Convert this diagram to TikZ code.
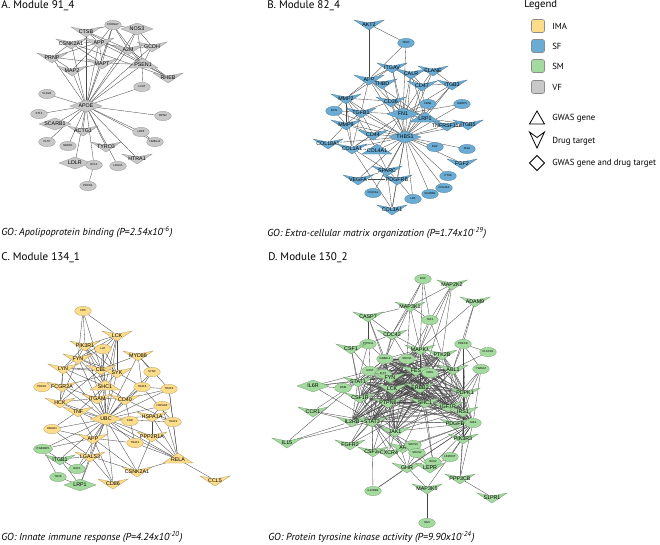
\documentclass[tikz,border=0pt]{standalone}
\usepackage{fontspec}
\setmainfont{PT Sans}
\newfontfamily\arialf{Liberation Sans}
\usetikzlibrary{shapes.geometric}
\pgfdeclarelayer{bg}
\pgfsetlayers{bg,main}
\definecolor{ima}{RGB}{253,220,138}
\definecolor{sf}{RGB}{107,172,212}
\definecolor{sm}{RGB}{163,218,157}
\definecolor{vf}{RGB}{200,200,200}
\definecolor{edgec}{RGB}{70,70,70}
\tikzset{
 edge/.style={draw=edgec, line width=0.25pt},
 lbl/.style={font=\arialf\fontsize{4}{4.5}\selectfont, inner sep=0.3pt},
 ell/.style={ellipse, inner sep=0pt, minimum width=12.5pt, minimum height=7pt, line width=0.2pt, font=\arialf\fontsize{2.1}{2.5}\selectfont},
 ttl/.style={font=\fontsize{8.3}{9}\selectfont, anchor=west, inner sep=0pt},
 gocap/.style={font=\itshape\fontsize{7.6}{8}\selectfont, anchor=west, inner sep=0pt},
 leglbl/.style={font=\fontsize{6.6}{8}\selectfont, anchor=west, inner sep=0pt},
 legsq/.style={rounded corners=1.5pt, draw=black!45, line width=0.4pt},
 legshape/.style={draw=black, line width=0.6pt, line join=miter},
}
\newcommand{\nV}[4]{\filldraw[fill=#4,draw=#4!70!black,line width=0.2pt,shift={(#2)}] (-15,-5) -- (0,-2) -- (15,-5) -- (0,5) -- cycle; \node[lbl,yshift=0.6pt] (#1) at (#2) {#3};}
\newcommand{\nT}[4]{\filldraw[fill=#4,draw=#4!70!black,line width=0.2pt,shift={(#2)}] (-15,5) -- (15,5) -- (0,-5) -- cycle; \node[lbl,yshift=-1pt] (#1) at (#2) {#3};}
\newcommand{\nD}[4]{\filldraw[fill=#4,draw=#4!70!black,line width=0.2pt,shift={(#2)}] (-16,0) -- (0,-6) -- (16,0) -- (0,6) -- cycle; \node[lbl] (#1) at (#2) {#3};}
\newcommand{\nE}[4]{\node[ell,fill=#4,draw=#4!70!black] (#1) at (#2) {#3};}
\begin{document}
\begin{tikzpicture}[x=0.75pt,y=-0.75pt]
\useasboundingbox (0,0) rectangle (660,544);
% ---------- titles and captions
\node[ttl] (tA) at (1,6) {A. Module 91\_4};
\node[ttl] (tB) at (267,6) {B. Module 82\_4};
\node[ttl] (tC) at (1,258) {C. Module 134\_1};
\node[ttl] (tD) at (268,258) {D. Module 130\_2};
\node[gocap] (gA) at (1,232) {GO: Apolipoprotein binding (P=2.54x10\textsuperscript{-6})};
\node[gocap] (gB) at (267,233) {GO: Extra-cellular matrix organization (P=1.74x10\textsuperscript{-29})};
\node[gocap] (gC) at (1,537) {GO: Innate immune response (P=4.24x10\textsuperscript{-20})};
\node[gocap] (gD) at (268,537) {GO: Protein tyrosine kinase activity (P=9.90x10\textsuperscript{-24})};
% ---------- legend
\node[ttl,font=\fontsize{8}{9}\selectfont] (lg) at (524,5) {Legend};
\filldraw[legsq,fill=ima] (531.5,19.5) rectangle (544.5,32.5);
\filldraw[legsq,fill=sf] (531.5,39.5) rectangle (544.5,52.5);
\filldraw[legsq,fill=sm] (531.5,59.5) rectangle (544.5,72.5);
\filldraw[legsq,fill=vf] (531.5,80.5) rectangle (544.5,93.5);
\node[leglbl] (l1) at (552,26) {IMA};
\node[leglbl] (l2) at (552,46) {SF};
\node[leglbl] (l3) at (552,66) {SM};
\node[leglbl] (l4) at (552,87) {VF};
\draw[legshape] (529.5,124) -- (544.5,124) -- (537,111) -- cycle;
\draw[legshape] (529.5,132) -- (537,137.5) -- (544.5,132) -- (537,148) -- cycle;
\draw[legshape] (529.5,163) -- (537,155.5) -- (544.5,163) -- (537,170.5) -- cycle;
\node[leglbl] (l5) at (552,118) {GWAS gene};
\node[leglbl] (l6) at (552,141) {Drug target};
\node[leglbl] (l7) at (552,163) {GWAS gene and drug target};
% ---------- panel A
\nE{aCHRNA7}{113,25}{CHRNA7}{vf}
\nD{aNOS3}{137,29}{NOS3}{vf}
\nV{aCTSB}{86,32}{CTSB}{vf}
\nV{aAPP}{99,43}{APP}{vf}
\nV{aCSNK2A1}{71,44}{CSNK2A1}{vf}
\nV{aA2M}{128,50}{A2M}{vf}
\nV{aGCDH}{152,47}{GCDH}{vf}
\nV{aPRNP}{52,58}{PRNP}{vf}
\nV{aMAPT}{102,64}{MAPT}{vf}
\nT{aPSEN1}{143,63}{PSEN1}{vf}
\nV{aMAP2}{72,71}{MAP2}{vf}
\nV{aRHEB}{168,78}{RHEB}{vf}
\nE{aLCAT}{142,87}{LCAT}{vf}
\nE{aVLDLR}{47,94}{VLDLR}{vf}
\nD{aAPOE}{86,106}{APOE}{vf}
\nE{aST13}{39,114}{ST13}{vf}
\nE{aEPN2}{163,116}{EPN2}{vf}
\nD{aSCARB1}{55,124}{SCARB1}{vf}
\nV{aACTG1}{83,131}{ACTG1}{vf}
\nE{aLRP8}{141,132}{LRP8}{vf}
\nE{aPLTP}{47,142}{PLTP}{vf}
\nE{aNEDD1}{68,146}{NEDD1}{vf}
\nE{aHMBL}{155,142}{HMBL12}{vf}
\nV{aTYRO3}{106,147}{TYRO3}{vf}
\nV{aHTRA1}{137,159}{HTRA1}{vf}
\nD{aLDLR}{75,163}{LDLR}{vf}
\nE{aRPL4}{94,165}{RPL4}{vf}
\nE{aLDLRA}{118,166}{LDLRA}{vf}
\nE{aPDCD1}{88,186}{PDCD1}{vf}
% ---------- panel B
\nV{bAKT2}{369,25}{AKT2}{sf}
\nE{bTFRC}{406,43}{TFRC}{sf}
\nV{bITGAV}{392,68}{ITGAV}{sf}
\nV{bCALR}{411,74}{CALR}{sf}
\nV{bELANE}{433,71}{ELANE}{sf}
\nV{bCD47}{422,86}{CD47}{sf}
\nV{bITGB3}{452,85}{ITGB3}{sf}
\nV{bAPP}{369,80}{APP}{sf}
\nV{bTHBD}{382,84}{THBD}{sf}
\nV{bMMP2}{346,99}{MMP2}{sf}
\nV{bCD36}{391,102}{CD36}{sf}
\nE{bFBN1}{428,104}{FBN1}{sf}
\nE{bIGFBP5}{462,104}{IGFBP5}{sf}
\nE{bDCN}{334,111}{DCN}{sf}
\nV{bTGFB1}{361,113}{TGFB1}{sf}
\nD{bFN1}{403,114}{FN1}{sf}
\nT{bLRP1}{425,117}{LRP1}{sf}
\nV{bTNFRSF11B}{447,126}{TNFRSF11B}{sf}
\nV{bITGB5}{468,125}{ITGB5}{sf}
\nV{bMMP9}{346,125}{MMP9}{sf}
\nV{bCD44}{373,135}{CD44}{sf}
\nD{bTHBS1}{405,137}{THBS1}{sf}
\nV{bCOL18A1}{328,144}{COL18A1}{sf}
\nV{bCOL1A1}{352,149}{COL1A1}{sf}
\nT{bCOL4A1}{377,149}{COL4A1}{sf}
\nE{bEGF}{435,147}{EGF}{sf}
\nE{bJAG1}{467,149}{JAG1}{sf}
\nV{bFGF2}{462,164}{FGF2}{sf}
\nE{bCTSK}{448,176}{CTSK}{sf}
\nE{bCOL4A2}{444,188}{COL4A2}{sf}
\nE{bSCARB1}{430,194}{SCARB1}{sf}
\nE{bLPA}{413,199}{LPA}{sf}
\nV{bSPARC}{387,171}{SPARC}{sf}
\nV{bVEGFA}{358,180}{VEGFA}{sf}
\nV{bPDGFRB}{397,180}{PDGFRB}{sf}
\nE{bCOL5A1}{373,193}{COL5A1}{sf}
\nV{bCOL3A1}{392,210}{COL3A1}{sf}
% ---------- panel C
\nE{cCD5}{83,311}{CD5}{ima}
\nV{cLCK}{117,336}{LCK}{ima}
\nV{cPIK3R1}{85,346}{PIK3R1}{ima}
\nE{cLAT}{103,349}{LAT}{ima}
\nV{cMYD88}{138,356}{MYD88}{ima}
\nV{cFYN}{78,359}{FYN}{ima}
\nV{cLYN}{63,369}{LYN}{ima}
\nV{cCBL}{101,370}{CBL}{ima}
\nV{cSYK}{117,373}{SYK}{ima}
\nE{cSYNC}{152,372}{SYNC}{ima}
\nE{cPRKD1}{42,387}{PRKD1}{ima}
\nV{cFCGR2A}{62,387}{FCGR2A}{ima}
\nT{cSHC1}{105,385}{SHC1}{ima}
\nE{cTRAF6}{142,387}{TRAF6}{ima}
\nE{cTRAF3}{169,389}{TRAF3}{ima}
\nV{cHCK}{60,403}{HCK}{ima}
\nV{cITGAM}{97,399}{ITGAM}{ima}
\nV{cCD40}{125,400}{CD40}{ima}
\nE{cHSPA1B}{162,406}{HSPA1B}{ima}
\nV{cTNF}{78,412}{TNF}{ima}
\nD{cUBC}{106,419}{UBC}{ima}
\nE{cFGR}{130,421}{FGR}{ima}
\nV{cHSPA1A}{152,417}{HSPA1A}{ima}
\nE{cTRAF2}{173,422}{TRAF2}{ima}
\nE{cHMGB1}{52,429}{HMGB1}{ima}
\nV{cPPP2R1A}{152,437}{PPP2R1A}{ima}
\nV{cAPP}{93,439}{APP}{ima}
\nE{cTRAF1}{135,443}{TRAF1}{ima}
\nE{cITGB1BP1}{43,449}{ITGB1BP1}{sm}
\nV{cITGB1}{60,460}{ITGB1}{sm}
\nV{cLGALS3}{90,457}{LGALS3}{ima}
\nT{cRELA}{178,458}{RELA}{ima}
\nV{cCSNK2A1}{137,472}{CSNK2A1}{ima}
\nE{cRAF1}{77,469}{RAF1}{sm}
\nE{cTANK}{58,477}{TANK}{sm}
\nD{cLRP1}{80,485}{LRP1}{sm}
\nV{cCD86}{113,484}{CD86}{ima}
\nV{cCCL5}{215,481}{CCL5}{ima}
% ---------- panel D
\nE{dBAX}{423,279}{BAX}{sm}
\nV{dMAP2K2}{452,285}{MAP2K2}{sm}
\nV{dADAM9}{475,302}{ADAM9}{sm}
\nV{dMAP3K1}{410,307}{MAP3K1}{sm}
\nV{dCASP7}{368,317}{CASP7}{sm}
\nE{dTAF1}{430,320}{TAF1}{sm}
\nV{dCDC42}{392,335}{CDC42}{sm}
\nE{dPTPN11}{368,344}{PTPN11}{sm}
\nV{dCSF1}{351,349}{CSF1}{sm}
\nV{dMAPK1}{420,350}{MAPK1}{sm}
\nV{dPTK2B}{442,355}{PTK2B}{sm}
\nE{dGNB2L1}{385,359}{GNB2L1}{sm}
\nE{dSOCS1}{407,359}{SOCS1}{sm}
\nE{dPRKCD}{463,344}{PRKCD}{sm}
\nE{dPLSCR1}{488,352}{PLSCR1}{sm}
\nE{dYWHAZ}{481,369}{YWHAZ}{sm}
\nV{dABL1}{453,370}{ABL1}{sm}
\nE{dIL6ST}{370,371}{IL6ST}{sm}
\nE{dFLT3}{383,374}{FLT3}{sm}
\nV{dFES}{416,371}{FES}{sm}
\nE{dCRKL}{430,373}{CRKL}{sm}
\nV{dFYN}{390,378}{FYN}{sm}
\nV{dSTAT1}{358,382}{STAT1}{sm}
\nD{dIL6R}{313,386}{IL6R}{sm}
\nE{dOSM}{343,388}{OSM}{sm}
\nV{dLCK}{392,389}{LCK}{sm}
\nV{dERBB2}{420,388}{ERBB2}{sm}
\nV{dPDPK1}{465,393}{PDPK1}{sm}
\nV{dCSF1R}{360,398}{CSF1R}{sm}
\nV{dPTPN6}{388,403}{PTPN6}{sm}
\nV{dSHC1}{425,403}{SHC1}{sm}
\nV{dIGF1R}{448,407}{IGF1R}{sm}
\nV{dCCR1}{313,412}{CCR1}{sm}
\nV{dIRS1}{463,412}{IRS1}{sm}
\nV{dIL2RB}{352,422}{IL2RB}{sm}
\nV{dSTAT3}{372,422}{STAT3}{sm}
\nV{dPDGFB}{455,424}{PDGFB}{sm}
\nE{dJAK2}{473,423}{JAK2}{sm}
\nV{dJAK1}{395,432}{JAK1}{sm}
\nV{dPIK3R3}{463,439}{PIK3R3}{sm}
\nV{dIL15}{287,443}{IL15}{sm}
\nV{dFGFR2}{350,445}{FGFR2}{sm}
\nV{dAR}{403,448}{AR}{sm}
\nE{dSOCS3}{413,445}{SOCS3}{sm}
\nV{dCSF3R}{373,452}{CSF3R}{sm}
\nV{dCXCR4}{389,453}{CXCR4}{sm}
\nE{dSOCS2}{417,453}{SOCS2}{sm}
\nE{dLEPROT}{450,457}{LEPROT}{sm}
\nE{dNCK2}{433,462}{NCK2}{sm}
\nV{dGHR}{407,468}{GHR}{sm}
\nV{dLEPR}{430,468}{LEPR}{sm}
\nV{dPPP3CB}{460,479}{PPP3CB}{sm}
\nV{dMAP3K5}{427,489}{MAP3K5}{sm}
\nE{dIL12RB2}{373,491}{IL12RB2}{sm}
\nV{dS1PR1}{492,498}{S1PR1}{sm}
\nE{dNMI}{427,523}{NMI}{sm}
% ---------- edges
\begin{pgfonlayer}{bg}
\foreach \v in {CHRNA7,NOS3,CTSB,APP,CSNK2A1,A2M,PSEN1,MAPT,MAP2,LCAT,VLDLR,ST13,EPN2,SCARB1,ACTG1,LRP8,PLTP,NEDD1,HMBL,TYRO3,HTRA1,LDLR,RPL4,LDLRA,GCDH,PRNP}
  \draw[edge] (aAPOE) -- (a\v);
\foreach \u/\v in {RPL4/PDCD1,LRP8/HMBL,CHRNA7/CTSB,CHRNA7/APP,CHRNA7/NOS3,CHRNA7/A2M,CHRNA7/PSEN1,CHRNA7/MAPT,NOS3/A2M,NOS3/PSEN1,NOS3/GCDH,CTSB/APP,CTSB/A2M,CTSB/RHEB,APP/CSNK2A1,APP/PRNP,APP/MAPT,APP/MAP2,APP/A2M,APP/PSEN1,CSNK2A1/PRNP,CSNK2A1/MAPT,CSNK2A1/RHEB,PRNP/MAPT,PRNP/MAP2,MAPT/PSEN1,A2M/PSEN1,A2M/GCDH,A2M/RHEB,GCDH/PSEN1,PSEN1/RHEB,PSEN1/LCAT,MAPT/MAP2}
  \draw[edge] (a\u) -- (a\v);
\foreach \v in {FN1,LRP1,CD47,CALR,ITGB3,ITGAV,APP,THBD,MMP2,TGFB1,MMP9,CD36,COL1A1,COL4A1,COL18A1,CD44,SPARC,VEGFA,PDGFRB,COL5A1,LPA,COL3A1,EGF,JAG1,FGF2,CTSK,COL4A2,SCARB1,TNFRSF11B,ITGB5,FBN1,IGFBP5,ELANE,DCN}
  \draw[edge] (bTHBS1) -- (b\v);
\foreach \u/\v in {AKT2/TFRC,AKT2/APP,TFRC/APP,TFRC/FN1,ITGAV/CALR,ITGAV/APP,ITGAV/FN1,ITGAV/MMP2,ITGAV/CD47,CALR/ELANE,CALR/CD47,CALR/FN1,CALR/LRP1,ELANE/CD47,ELANE/ITGB3,CD47/ITGB3,CD47/FN1,ITGB3/FN1,ITGB3/LRP1,APP/MMP2,APP/THBD,APP/TGFB1,APP/LRP1,APP/FN1,MMP2/TGFB1,MMP2/MMP9,MMP2/DCN,MMP2/COL1A1,MMP2/CD36,DCN/TGFB1,DCN/MMP9,TGFB1/MMP9,TGFB1/CD36,TGFB1/FN1,TGFB1/COL1A1,MMP9/COL18A1,MMP9/COL1A1,MMP9/CD44,CD36/FN1,CD36/LRP1,FN1/LRP1,FN1/FBN1,FN1/IGFBP5,LRP1/TNFRSF11B,LRP1/ITGB5,FN1/COL1A1,FN1/COL4A1,CD44/COL1A1,COL18A1/COL1A1,COL1A1/COL4A1,COL4A1/SPARC,COL1A1/SPARC,SPARC/PDGFRB,SPARC/VEGFA,VEGFA/PDGFRB,PDGFRB/COL3A1,SPARC/COL3A1,COL1A1/COL3A1,PDGFRB/LPA,MMP2/COL4A1,TGFB1/CD44,CD47/LRP1}
  \draw[edge] (b\u) -- (b\v);
\foreach \v in {LCK,PIK3R1,LAT,MYD88,FYN,LYN,CBL,SYK,FCGR2A,SHC1,TRAF6,TRAF3,HCK,ITGAM,CD40,TNF,FGR,HSPA1A,TRAF2,HMGB1,PPP2R1A,APP,TRAF1,LGALS3,RELA,CSNK2A1,ITGB1,RAF1,LRP1,CD86,SYNC,HSPA1B,ITGB1BP1}
  \draw[edge] (cUBC) -- (c\v);
\foreach \u/\v in {CD5/LCK,CD5/PIK3R1,CD5/FYN,CD5/CBL,LCK/PIK3R1,LCK/FYN,LCK/LAT,LCK/CBL,LCK/SYK,LCK/SHC1,PIK3R1/FYN,PIK3R1/LYN,PIK3R1/CBL,PIK3R1/SHC1,PIK3R1/SYK,LAT/FYN,LAT/CBL,LAT/SYK,LAT/SHC1,MYD88/TRAF6,MYD88/CBL,MYD88/TRAF3,FYN/LYN,FYN/CBL,FYN/SYK,FYN/SHC1,FYN/HCK,LYN/CBL,LYN/SYK,LYN/FCGR2A,LYN/HCK,LYN/SHC1,CBL/SYK,CBL/SHC1,CBL/HCK,SYK/SHC1,SYK/FCGR2A,SYK/TRAF6,FCGR2A/PRKD1,FCGR2A/HCK,FCGR2A/ITGAM,SHC1/ITGAM,SHC1/CD40,HCK/TNF,HCK/ITGAM,ITGAM/CD40,CD40/TRAF6,CD40/TRAF3,CD40/TRAF2,CD40/TRAF1,TRAF6/TRAF3,TRAF6/TRAF2,TRAF3/TRAF2,TRAF3/RELA,TRAF2/RELA,TRAF1/RELA,HSPA1B/HSPA1A,HSPA1B/RELA,HSPA1A/PPP2R1A,HSPA1A/TRAF2,PPP2R1A/RELA,PPP2R1A/CSNK2A1,TNF/APP,TNF/HMGB1,TNF/RELA,APP/LGALS3,APP/ITGB1BP1,APP/CSNK2A1,LGALS3/ITGB1,LGALS3/LRP1,ITGB1BP1/ITGB1,ITGB1BP1/TANK,ITGB1/RAF1,ITGB1/LRP1,TANK/LRP1,RELA/CCL5,RELA/CSNK2A1,CSNK2A1/LGALS3,HMGB1/APP,HMGB1/LGALS3,SYNC/TRAF6,MYD88/SYNC,CD86/APP,CD86/LGALS3,TNF/SHC1,LGALS3/RAF1,APP/TRAF1,HSPA1A/RELA}
  \draw[edge] (c\u) -- (c\v);
\foreach \u [count=\i] in {FYN,LCK,SHC1,PTPN6,ERBB2,STAT1,CSF1R,IGF1R,IRS1,STAT3,JAK1,IL2RB,ABL1,FES,PDPK1,CRKL,SOCS1,FLT3,MAPK1,PTK2B,GNB2L1,IL6ST,JAK2}
  \foreach \v [count=\j] in {FYN,LCK,SHC1,PTPN6,ERBB2,STAT1,CSF1R,IGF1R,IRS1,STAT3,JAK1,IL2RB,ABL1,FES,PDPK1,CRKL,SOCS1,FLT3,MAPK1,PTK2B,GNB2L1,IL6ST,JAK2}
    {\ifnum\j>\i \draw[edge] (d\u) -- (d\v); \fi}
\foreach \u/\v in {BAX/MAP3K1,BAX/TAF1,BAX/MAPK1,BAX/CDC42,MAP2K2/MAP3K1,MAP2K2/MAPK1,MAP2K2/ERBB2,MAP2K2/PTK2B,MAP2K2/TAF1,ADAM9/PRKCD,ADAM9/ABL1,ADAM9/MAPK1,MAP3K1/CASP7,MAP3K1/CDC42,MAP3K1/TAF1,MAP3K1/MAPK1,MAP3K1/GNB2L1,MAP3K1/SOCS1,CASP7/CDC42,CASP7/PTPN11,CASP7/GNB2L1,CASP7/FYN,CASP7/IL6ST,CDC42/PTPN11,CDC42/GNB2L1,CDC42/SOCS1,CDC42/MAPK1,CDC42/FLT3,TAF1/MAPK1,TAF1/PTK2B,TAF1/LCK,CSF1/PTPN11,CSF1/STAT1,CSF1/CSF1R,CSF1/IL6ST,PTPN11/GNB2L1,PTPN11/STAT1,PRKCD/ABL1,PRKCD/PDPK1,PRKCD/IRS1,PRKCD/PLSCR1,PRKCD/YWHAZ,PLSCR1/ABL1,YWHAZ/PDPK1,YWHAZ/IRS1,YWHAZ/JAK2,YWHAZ/IGF1R,IL6R/STAT1,IL6R/OSM,IL6R/IL6ST,IL6R/STAT3,IL6R/ABL1,OSM/STAT1,OSM/IL6ST,CCR1/IL2RB,CCR1/STAT1,CCR1/STAT3,IL15/IL2RB,IL15/STAT1,IL15/STAT3,FGFR2/STAT3,FGFR2/SHC1,FGFR2/PTPN6,FGFR2/FYN,CSF3R/STAT3,CSF3R/JAK1,CSF3R/LCK,CXCR4/JAK2,CXCR4/STAT3,CXCR4/JAK1,CXCR4/FYN,AR/SOCS3,AR/JAK1,AR/SHC1,SOCS3/JAK2,SOCS3/STAT3,SOCS2/STAT3,SOCS2/JAK2,GHR/JAK2,GHR/STAT3,GHR/SOCS2,GHR/SOCS3,GHR/IL12RB2,GHR/JAK1,LEPR/JAK2,LEPR/LEPROT,LEPR/SOCS3,LEPR/STAT3,NCK2/SHC1,NCK2/ERBB2,LEPROT/JAK2,PIK3R3/IRS1,PIK3R3/PDPK1,PIK3R3/ERBB2,PIK3R3/JAK2,PDGFB/IRS1,PDGFB/SHC1,PDGFB/JAK2,PPP3CB/S1PR1,PPP3CB/PIK3R3,PPP3CB/JAK2,PPP3CB/PDPK1,MAP3K5/NMI,MAP3K5/GHR,MAP3K5/JAK2,IL12RB2/STAT3,IL12RB2/JAK2}
  \draw[edge] (d\u) -- (d\v);
\end{pgfonlayer}
\end{tikzpicture}
\end{document}
